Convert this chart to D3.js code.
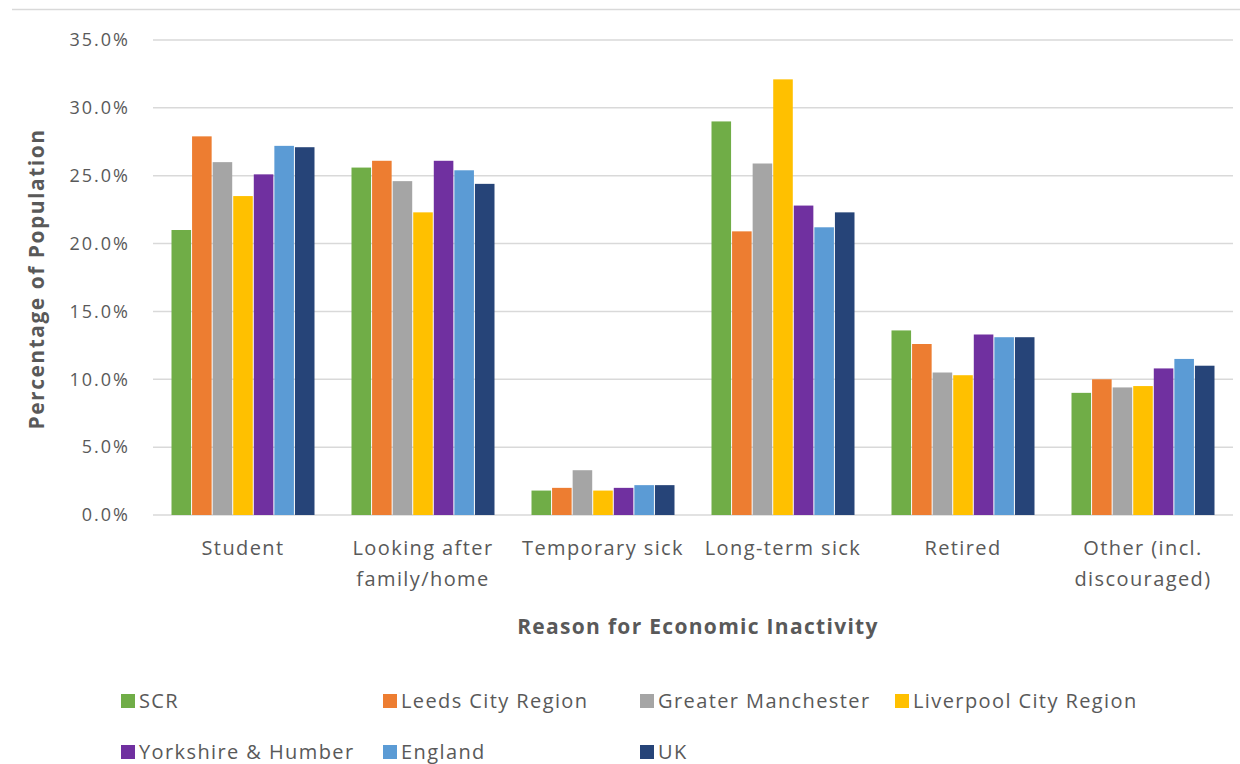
<!DOCTYPE html>
<html>
<head>
<meta charset="utf-8">
<script src="https://cdn.jsdelivr.net/npm/d3@7"></script>
<style>
  html, body { margin: 0; padding: 0; background: #fff; }
  svg { display: block; }
  text { font-family: "Open Sans", "Noto Sans", sans-serif; fill: #595959; }
</style>
</head>
<body>
<svg id="chart" width="1240" height="764"></svg>
<script>
const categories = ["Student", "Looking after family/home", "Temporary sick", "Long-term sick", "Retired", "Other (incl. discouraged)"];
const categoryLines = [["Student"], ["Looking after", "family/home"], ["Temporary sick"], ["Long-term sick"], ["Retired"], ["Other (incl.", "discouraged)"]];
const seriesNames = ["SCR", "Leeds City Region", "Greater Manchester", "Liverpool City Region", "Yorkshire & Humber", "England", "UK"];
const seriesColors = ["#70AD47", "#ED7D31", "#A5A5A5", "#FFC000", "#7030A0", "#5B9BD5", "#264478"];
// values in percent, one array per series, ordered by category
const SCR        = [21.0, 25.6, 1.8, 29.0, 13.6, 9.0];
const Leeds      = [27.9, 26.1, 2.0, 20.9, 12.6, 10.0];
const GManchester= [26.0, 24.6, 3.3, 25.9, 10.5, 9.4];
const Liverpool  = [23.5, 22.3, 1.8, 32.1, 10.3, 9.5];
const Yorkshire  = [25.1, 26.1, 2.0, 22.8, 13.3, 10.8];
const England    = [27.2, 25.4, 2.2, 21.2, 13.1, 11.5];
const UK         = [27.1, 24.4, 2.2, 22.3, 13.1, 11.0];
const seriesValues = [SCR, Leeds, GManchester, Liverpool, Yorkshire, England, UK];
const yTicks = [0, 5, 10, 15, 20, 25, 30, 35];

const svg = d3.select("#chart");
const plot = { left: 153, right: 1233, top: 40, bottom: 515 };

// outer top border
svg.append("line").attr("x1", 12).attr("x2", 1240).attr("y1", 9.5).attr("y2", 9.5)
  .attr("stroke", "#d9d9d9").attr("stroke-width", 1.5);

const x0 = d3.scaleBand().domain(categories).range([plot.left, plot.right]).paddingInner(0.2).paddingOuter(0.1);
const x1 = d3.scaleBand().domain(seriesNames).range([0, x0.bandwidth()]).padding(0);
const y = d3.scaleLinear().domain([0, 35]).range([plot.bottom, plot.top]);

// gridlines
svg.append("g").selectAll("line").data(yTicks).join("line")
  .attr("x1", plot.left).attr("x2", plot.right)
  .attr("y1", d => y(d)).attr("y2", d => y(d))
  .attr("stroke", "#d9d9d9").attr("stroke-width", 1.5);

// y tick labels
svg.append("g").selectAll("text").data(yTicks).join("text")
  .attr("x", 130).attr("y", d => y(d)).attr("dy", "0.35em")
  .attr("text-anchor", "end").attr("font-size", 18).attr("letter-spacing", 2)
  .text(d => d.toFixed(1) + "%");

// bars
const groups = svg.append("g").selectAll("g").data(categories).join("g")
  .attr("transform", d => `translate(${x0(d)},0)`);
groups.selectAll("rect").data((c, ci) => seriesNames.map((s, si) => ({ s, si, v: seriesValues[si][ci] })))
  .join("rect")
  .attr("x", d => x1(d.s) + 0.5)
  .attr("width", x1.bandwidth() - 1)
  .attr("y", d => y(d.v))
  .attr("height", d => y(0) - y(d.v))
  .attr("fill", d => seriesColors[d.si]);

// category labels
const catG = svg.append("g").selectAll("text").data(categories).join("text")
  .attr("text-anchor", "middle").attr("font-size", 20).attr("letter-spacing", 1.4)
  .attr("x", d => x0(d) + x0.bandwidth() / 2).attr("y", 555);
catG.selectAll("tspan").data((d, i) => categoryLines[i]).join("tspan")
  .attr("x", function() { return d3.select(this.parentNode).attr("x"); })
  .attr("dy", (d, i) => i === 0 ? 0 : 31)
  .text(d => d);

// axis titles
svg.append("text").attr("x", 698).attr("y", 634).attr("text-anchor", "middle")
  .attr("font-size", 21).attr("font-weight", "bold").attr("letter-spacing", 1.3)
  .text("Reason for Economic Inactivity");
svg.append("text").attr("transform", "translate(44,279) rotate(-90)").attr("text-anchor", "middle")
  .attr("font-size", 21).attr("font-weight", "bold").attr("letter-spacing", 1.5)
  .text("Percentage of Population");

// legend
const legendPos = [[121, 701], [383, 701], [640, 701], [895, 701], [121, 752], [383, 752], [640, 752]];
const leg = svg.append("g").selectAll("g").data(seriesNames).join("g")
  .attr("transform", (d, i) => `translate(${legendPos[i][0]},${legendPos[i][1]})`);
leg.append("rect").attr("x", 0).attr("y", -7).attr("width", 14).attr("height", 14)
  .attr("fill", (d, i) => seriesColors[i]);
leg.append("text").attr("x", 18).attr("y", 0).attr("dy", "0.35em")
  .attr("font-size", 20).attr("letter-spacing", 1.4).text(d => d);
</script>
</body>
</html>
